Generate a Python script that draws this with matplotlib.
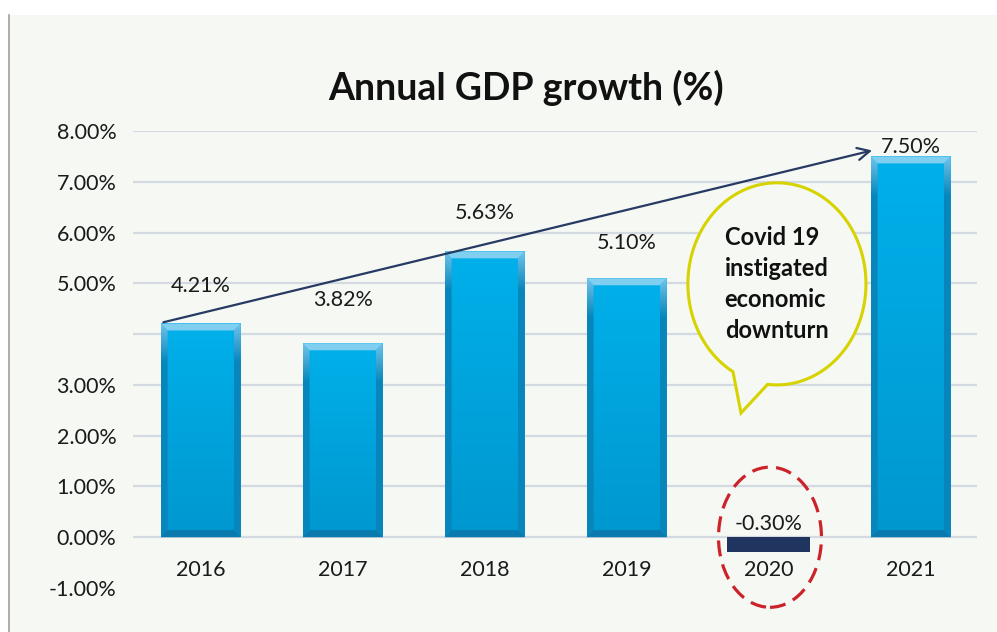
import numpy as np
import matplotlib
matplotlib.use("Agg")
import matplotlib.pyplot as plt
from matplotlib.patches import Polygon, Ellipse, Rectangle
from matplotlib.colors import to_rgb
from matplotlib.path import Path
from matplotlib.patches import PathPatch

plt.rcParams['font.family'] = ['Lato', 'DejaVu Sans']

# ---- data ----
years = ["2016", "2017", "2018", "2019", "2020", "2021"]
growth = [4.21, 3.82, 5.63, 5.10, -0.30, 7.50]
ytick_values = [-1, 0, 1, 2, 3, 4, 5, 6, 7, 8]
ytick_labels = ["-1.00%", "0.00%", "1.00%", "2.00%", "3.00%", "", "5.00%", "6.00%", "7.00%", "8.00%"]
# label height above each bar end (data units)
label_lift = [0.74, 0.85, 0.76, 0.70, 0.56, 0.19]
bubble_lines = ["Covid 19", "instigated", "economic", "downturn"]

PANEL = "#f5f8f3"
GRID = "#d3dae2"
NAVY = "#1f3560"

W, H = 997, 632
fig = plt.figure(figsize=(W / 100, H / 100), dpi=100, facecolor="white")

# background panel with a thin grey left border
fig.patches.append(Rectangle((9 / W, 0), 1 - 9 / W, (H - 15) / H, transform=fig.transFigure,
                             facecolor=PANEL, edgecolor="none", zorder=-2))
fig.lines.append(plt.Line2D([9 / W, 9 / W], [0, (H - 15) / H], transform=fig.transFigure,
                            color="#a0a0a0", lw=1.2, zorder=-1))

ax = fig.add_axes([133 / W, (H - 588) / H, (977 - 133) / W, (588 - 131) / H])
ax.set_facecolor("none")
for s in ax.spines.values():
    s.set_visible(False)

XLIM = (-0.477, 5.467)
YLIM = (-1, 8)

# horizontal gridlines 0..8
for v in ytick_values:
    if v >= 0:
        ax.axhline(v, color=GRID, lw=1.6, zorder=1)

ax.set_yticks(ytick_values)
ax.set_yticklabels(ytick_labels, fontsize=15.5, color="#1a1a1a")
ax.tick_params(axis="y", length=0, pad=12)
ax.set_xticks([])

x = np.arange(len(years))
bw = 0.565
dx = 7 / 142
dy = 7 / 50.7


def grad_patch(verts, colfun, y0, y1, z):
    poly = Polygon(verts, closed=True, facecolor="none", edgecolor="none", zorder=z)
    ax.add_patch(poly)
    xs = [p[0] for p in verts]
    ys = np.linspace(y0, y1, 128)
    img = np.array([colfun(yy) for yy in ys])[:, None, :]
    im = ax.imshow(img, extent=(min(xs), max(xs), y0, y1), origin="lower",
                   aspect="auto", interpolation="bilinear", zorder=z)
    im.set_clip_path(poly)


def mix(c1, c2, t):
    a, b = np.array(to_rgb(c1)), np.array(to_rgb(c2))
    t = min(max(t, 0), 1)
    return a * (1 - t) + b * t


for i, v in enumerate(growth):
    l, r = x[i] - bw / 2, x[i] + bw / 2
    if v < 0:
        ax.bar(x[i], v, width=bw + 0.02, color=NAVY, zorder=3)
        continue
    # body
    grad_patch([(l, 0), (r, 0), (r, v), (l, v)],
               lambda yy, v=v: mix("#0097cf", "#00b0ea", yy / v), 0, v, 3)
    # side bevels: light near the top, darker below
    side = lambda yy, v=v: mix("#0886bc", "#6fc3ea", (yy - (v - 0.75)) / 0.75)
    grad_patch([(l, 0), (l, v), (l + dx, v - dy), (l + dx, dy)], side, 0, v, 4)
    grad_patch([(r, 0), (r, v), (r - dx, v - dy), (r - dx, dy)], side, 0, v, 4)
    ax.add_patch(Polygon([(l, v), (r, v), (r - dx, v - dy), (l + dx, v - dy)],
                         closed=True, facecolor="#80cff1", edgecolor="none", zorder=5))
    ax.add_patch(Polygon([(l, 0), (r, 0), (r - dx, dy), (l + dx, dy)],
                         closed=True, facecolor="#0a79ae", edgecolor="none", zorder=5))

# value labels
for i, v in enumerate(growth):
    base = max(v, 0) if v >= 0 else v
    ax.text(x[i], base + label_lift[i], f"{v:.2f}%", ha="center", va="center",
            fontsize=15.5, color="#1a1a1a", zorder=8)

# category labels
for i, yr in enumerate(years):
    ax.text(x[i], -0.65, yr, ha="center", va="center", fontsize=15.5, color="#1a1a1a", zorder=8)

# trend arrow from first to last bar
ax.annotate("", xy=(x[5] - bw / 2 + 0.03, growth[5] + 0.13),
            xytext=(x[0] - bw / 2, growth[0] + 0.01),
            arrowprops=dict(arrowstyle="->", color="#263a63", lw=1.6, mutation_scale=22),
            zorder=7)

# speech bubble
cx, cy, ew, eh = 4.058, 4.99, 1.254, 3.98
a_start, a_end = np.deg2rad(264), np.deg2rad(240.4 + 360)
ang = np.linspace(a_start, a_end, 200)
pts = list(zip(cx + ew / 2 * np.cos(ang), cy + eh / 2 * np.sin(ang)))
pts.append((3.805, 2.446))
pts.append(pts[0])
codes = [Path.MOVETO] + [Path.LINETO] * (len(pts) - 2) + [Path.CLOSEPOLY]
ax.add_patch(PathPatch(Path(pts, codes), facecolor=PANEL, edgecolor="#d6d300", lw=2.2,
                       joinstyle="miter", zorder=6))
for k, line in enumerate(bubble_lines):
    ax.text(3.69, 5.9 - k * 0.61, line, ha="left", va="center", fontsize=17,
            fontweight="bold", color="#111111", zorder=8)

# highlight the 2020 contraction
ax.add_patch(Ellipse((4.009, 0.0), 0.725, 2.76, facecolor="none", edgecolor="#cc2229",
                     lw=2.3, linestyle=(0, (5, 2.6)), zorder=7, clip_on=False))

ax.set_xlim(*XLIM)
ax.set_ylim(*YLIM)

fig.text(526 / W, (H - 88) / H, "Annual GDP growth (%)", ha="center", va="center",
         fontsize=27, fontweight="bold", color="#111111")

fig.savefig("out.png", dpi=100, facecolor="white")
